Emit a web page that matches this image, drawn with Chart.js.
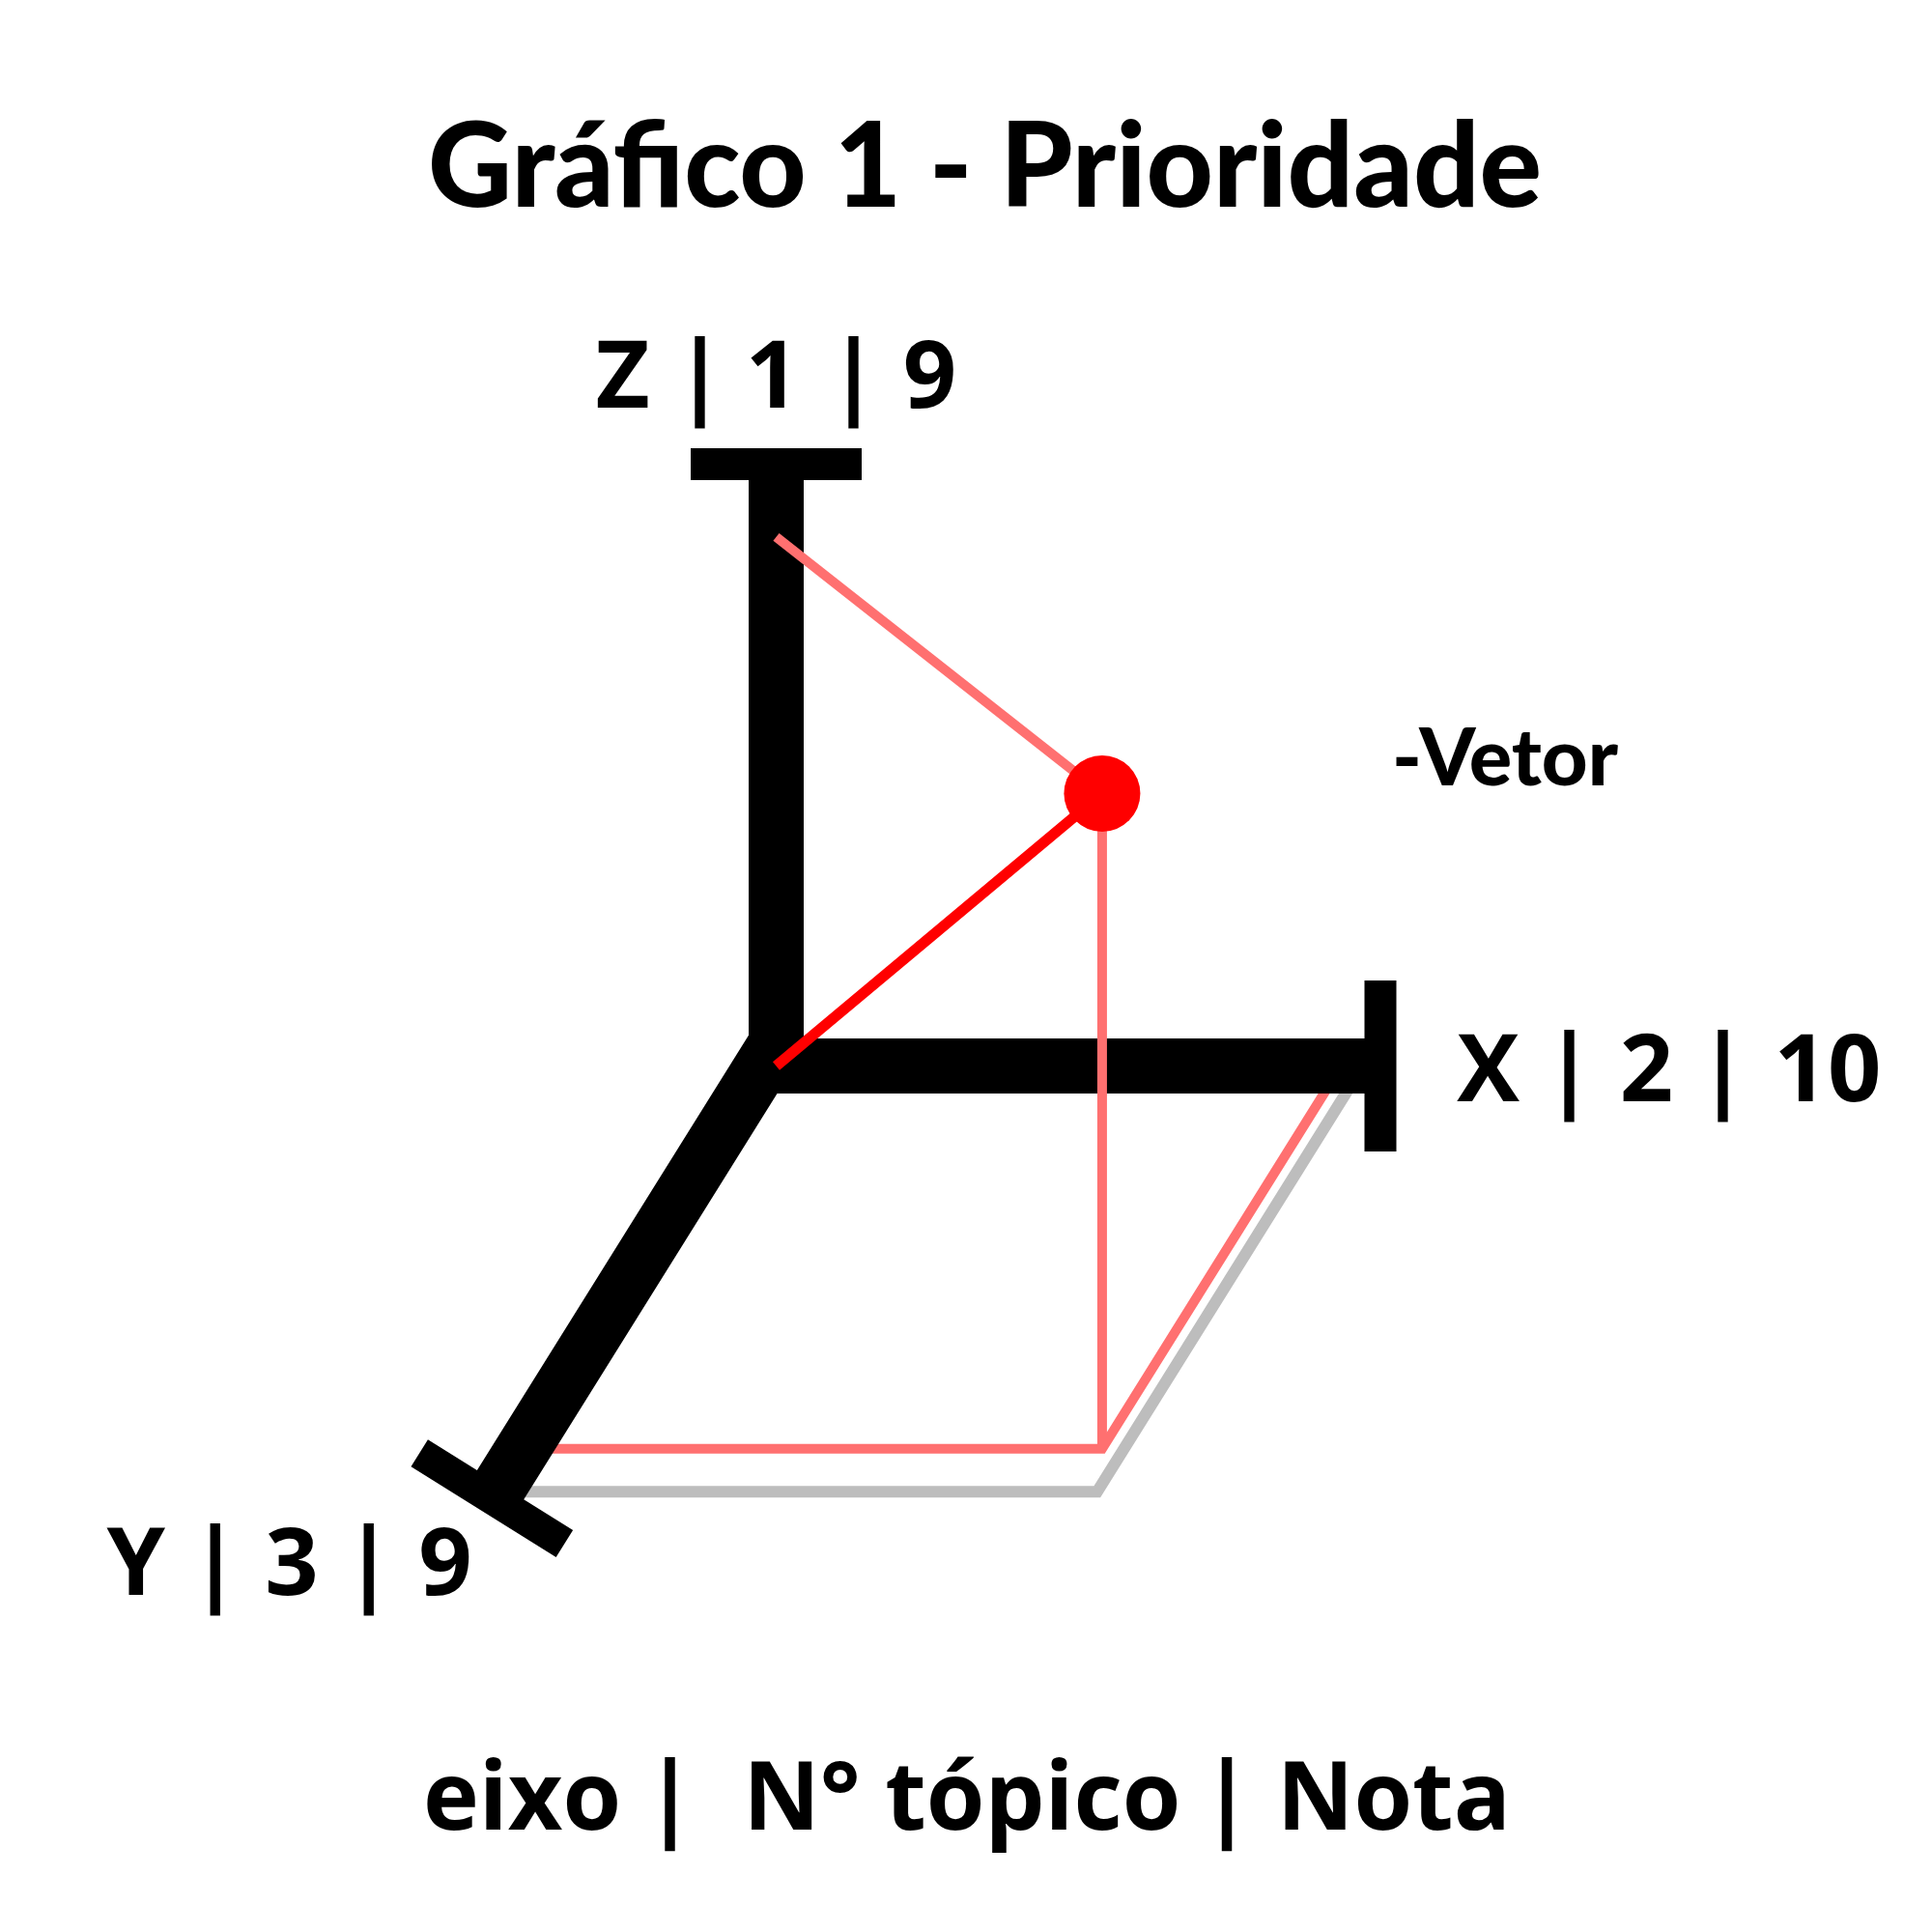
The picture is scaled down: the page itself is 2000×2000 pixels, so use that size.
<!DOCTYPE html>
<html>
<head>
<meta charset="utf-8">
<script src="https://cdn.jsdelivr.net/npm/chart.js@4/dist/chart.umd.min.js"></script>
<style>
  html, body { margin: 0; padding: 0; background: #ffffff; }
  #wrap { width: 2000px; height: 2000px; }
</style>
</head>
<body>
<div id="wrap"><canvas id="grafico"></canvas></div>
<script>
// eixo | N° tópico | Nota
const eixos = ['X', 'Y', 'Z'];
const topicos = [2, 3, 1];
const notas = [10, 9, 9];
const maxEixo = 10;

// posição do vetor (x, y, z)
const vetor = [9.35, 8.41, 10.89];
// onde a guia rosa encosta no eixo Z
const guiaZ = 8.79;
// contorno cinza do plano (x, y)
const contorno = [9.71, 9.35];

// projeção obliqua (em px)
const origem = [803.5, 1103.5];
const ux = [62.55, 0];
const uy = [-29.42, 47.13];
const uz = [0, -62.3];
const elevY = 0.38; // o eixo Y sai um pouco acima da origem

function proj(x, y, z) {
  return {
    x: origem[0] + x * ux[0] + y * uy[0] + z * uz[0],
    y: origem[1] + x * ux[1] + y * uy[1] + z * uz[1]
  };
}

// barra da ponta, perpendicular ao eixo
function tampa(inicio, fim) {
  const dx = fim.x - inicio.x, dy = fim.y - inicio.y;
  const L = Math.hypot(dx, dy);
  const px = -dy / L * 88.5, py = dx / L * 88.5;
  return [{x: fim.x - px, y: fim.y - py}, {x: fim.x + px, y: fim.y + py}];
}

function linha(pontos, cor, largura, ordem) {
  return {
    data: pontos,
    showLine: true,
    borderColor: cor,
    borderWidth: largura,
    pointRadius: 0,
    borderCapStyle: 'butt',
    borderJoinStyle: 'miter',
    tension: 0,
    clip: false,
    order: ordem
  };
}

const rosa = '#ff7070';
const cinza = '#bdbdbd';

const O = proj(0, 0, 0);
const P = proj(vetor[0], vetor[1], vetor[2]);
const F = proj(vetor[0], vetor[1], 0);
const fimX = proj(maxEixo, 0, 0);
const fimZ = proj(0, 0, maxEixo);
const inicioY = proj(0, 0, elevY);
const fimY = proj(0, maxEixo, elevY);

const datasets = [
  // ponto
  {data: [P], showLine: false, pointRadius: 39.5, pointBackgroundColor: '#ff0000', pointBorderWidth: 0, clip: false, order: 0},
  // vetor
  linha([O, P], '#ff0000', 11, 1),
  // guias rosa por cima dos eixos
  linha([proj(0, 0, guiaZ), P], rosa, 10, 2),
  linha([P, F], rosa, 10, 3),
  // eixos
  linha(tampa(O, fimX), '#000000', 33, 4),
  linha(tampa(inicioY, fimY), '#000000', 33, 4),
  linha(tampa(O, fimZ), '#000000', 33, 4),
  linha([O, fimX], '#000000', 57, 5),
  linha([fimZ, inicioY, fimY], '#000000', 57, 5),
  // guias por baixo dos eixos
  linha([proj(0, vetor[1], 0), F, proj(vetor[0], 0, 0)], rosa, 10, 6),
  linha([proj(0, contorno[1], 0), proj(contorno[0], contorno[1], 0), proj(contorno[0], 0, 0)], cinza, 12, 7)
];

// textos
const rotulos = [
  {eixo: 0, base: 1140, centros: [1540.5, 1624.5, 1704.5, 1783.5, 1892]},
  {eixo: 1, base: 1651, centros: [140.7, 222.8, 302, 381.7, 461]},
  {eixo: 2, base: 422, centros: [644.5, 724.5, 799.5, 883.5, 962.5]}
];
const rodape = ['eixo', '|', 'N° tópico', '|', 'Nota'];
const rodapeCentros = [540.5, 693.6, 995.8, 1270, 1442.8];

function textoLargura(ctx, txt, cx, base, fonte, largura) {
  ctx.save();
  ctx.font = fonte;
  const w = ctx.measureText(txt).width;
  ctx.translate(cx, base);
  ctx.scale(largura / w, 1);
  ctx.textAlign = 'center';
  ctx.fillText(txt, 0, 0);
  ctx.restore();
}

const textos = {
  id: 'textos',
  afterDraw(chart) {
    const ctx = chart.ctx;
    ctx.save();
    ctx.fillStyle = '#000000';
    ctx.textBaseline = 'alphabetic';

    textoLargura(ctx, 'Gráfico 1 - Prioridade', 1019.6, 214, '900 122px Lato', 1153);
    textoLargura(ctx, '-Vetor', 1558, 813, '900 82px Lato', 234);

    ctx.textAlign = 'center';
    ctx.font = 'bold 97px "Open Sans"';
    rotulos.forEach(r => {
      const partes = [eixos[r.eixo], '|', String(topicos[r.eixo]), '|', String(notas[r.eixo])];
      partes.forEach((p, i) => ctx.fillText(p, r.centros[i], r.base));
    });

    ctx.font = 'bold 98px "Open Sans"';
    rodape.forEach((p, i) => ctx.fillText(p, rodapeCentros[i], 1894));
    ctx.restore();
  }
};

new Chart(document.getElementById('grafico').getContext('2d'), {
  type: 'scatter',
  data: {datasets: datasets},
  options: {
    responsive: true,
    maintainAspectRatio: false,
    animation: false,
    events: [],
    layout: {padding: 0, autoPadding: false},
    scales: {
      x: {type: 'linear', min: 0, max: 2000, display: false},
      y: {type: 'linear', min: 0, max: 2000, reverse: true, display: false}
    },
    plugins: {
      legend: {display: false},
      tooltip: {enabled: false}
    }
  },
  plugins: [textos]
});
</script>
</body>
</html>
